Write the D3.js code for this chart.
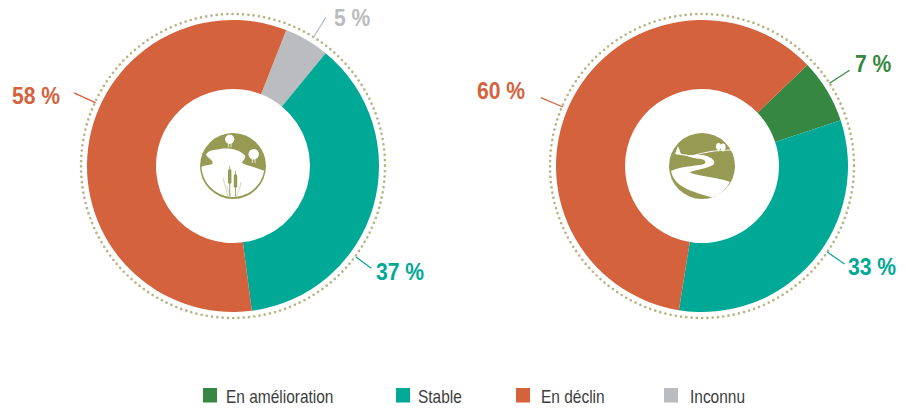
<!DOCTYPE html>
<html>
<head>
<meta charset="utf-8">
<script src="https://cdn.jsdelivr.net/npm/d3@7"></script>
<style>
  html, body { margin: 0; padding: 0; background: #fff; }
  text { font-family: "Liberation Sans", sans-serif; }
</style>
</head>
<body>
<div class="chart"></div>
<script>
const width = 906;
const height = 408;

const categories = ['En amélioration', 'Stable', 'En déclin', 'Inconnu'];
const colors = ['#358742', '#00a896', '#d4623c', '#bbbcc0'];

// Order is the clockwise order of the slices
const wetlandCategories = ['Inconnu', 'Stable', 'En déclin'];
const wetlandValues = [5, 37, 58];
const riverCategories = ['En amélioration', 'Stable', 'En déclin'];
const riverValues = [7.1, 32.6, 60.3];

const color = d3.scaleOrdinal().domain(categories).range(colors);

const svg = d3.select('.chart')
  .append('svg')
  .attr('width', width)
  .attr('height', height)
  .style('display', 'block');

const outerRadius = 146;
const innerRadius = 77;
const ringRadius = 152;
const olive = '#979a52';

const arc = d3.arc().innerRadius(innerRadius).outerRadius(outerRadius);
const deg = Math.PI / 180;

function drawDonut(cx, cy, cats, values, startDeg, labels) {
  const g = svg.append('g').attr('transform', `translate(${cx}, ${cy})`);

  const pie = d3.pie()
    .sort(null)
    .startAngle(startDeg * deg)
    .endAngle(startDeg * deg + 2 * Math.PI);

  g.selectAll('path.slice')
    .data(pie(values))
    .enter()
    .append('path')
    .attr('class', 'slice')
    .attr('d', arc)
    .attr('fill', (_d, i) => color(cats[i]));

  // Dotted ring
  g.append('circle')
    .attr('r', ringRadius)
    .attr('fill', 'none')
    .attr('stroke', '#b8b486')
    .attr('stroke-width', 2.7)
    .attr('stroke-linecap', 'round')
    .attr('stroke-dasharray', '0 5.3');

  // Leader lines and percentage labels
  values.forEach((v, i) => {
    const l = labels[i];
    const a = l.angle * deg;
    const c = color(cats[i]);
    g.append('line')
      .attr('x1', Math.sin(a) * l.r0)
      .attr('y1', -Math.cos(a) * l.r0)
      .attr('x2', Math.sin(a) * l.r1)
      .attr('y2', -Math.cos(a) * l.r1)
      .attr('stroke', c)
      .attr('stroke-width', 1.2);
    svg.append('text')
      .attr('transform', `translate(${l.x}, ${l.y}) scale(0.88, 1)`)
      .attr('fill', c)
      .attr('font-size', 24)
      .attr('font-weight', 700)
      .text(`${Math.round(v)} %`);
  });

  return g;
}

function wetlandIcon(g) {
  g.append('circle').attr('r', 33).attr('fill', olive);
  g.append('path')
    .attr('fill', '#fff')
    .attr('d', 'M-31.5,0.7 C-28,-0.5 -24,-1 -21,-1.7 C-19.5,-4 -21,-5.5 -22.7,-6.7 C-24.5,-8.5 -27.5,-10 -26.7,-11.7 C-25,-15 -21,-16 -19,-16 C-13,-17.5 -8,-18 -2.7,-17.3 C3,-17 9,-14 12.3,-10 C12.5,-7 10,-5.5 9,-3.3 C12,-1.5 15,-0.5 17.3,0 C22,1.5 27,3 31.2,4.8 A31.6,31.6 0 0 1 -31.5,0.7 Z');
  [[-3.3, -26.7, 4.6], [20.7, -11.7, 5.2]].forEach(([x, y, r]) => {
    g.append('circle').attr('cx', x).attr('cy', y).attr('r', r).attr('fill', '#fff');
    g.append('path')
      .attr('d', `M${x - 1.3},${y + 2} V${y + r + 3.5} M${x + 1.3},${y + 2} V${y + r + 3.5}`)
      .attr('stroke', '#fff')
      .attr('stroke-width', 0.8);
  });
  g.append('path')
    .attr('fill', 'none')
    .attr('stroke', '#c4c59c')
    .attr('stroke-width', 0.7)
    .attr('d', 'M-10,12 C-8,20 -6,26 -5,31 M-3.3,8 V31 M2.3,20 V31 M8,16 C7,22 5,27 3,31 M-6,20 C-5,25 -3,28 -2,31');
  g.append('rect').attr('x', -5).attr('y', 3).attr('width', 3.4).attr('height', 15).attr('rx', 1.7).attr('fill', olive);
  g.append('rect').attr('x', 0.8).attr('y', 8).attr('width', 3.4).attr('height', 14).attr('rx', 1.7).attr('fill', olive);
  g.append('path')
    .attr('stroke', olive)
    .attr('stroke-width', 0.7)
    .attr('d', 'M-3.3,0 V3 M-3.3,18 V30 M2.5,5 V8 M2.5,22 V30');
}

function riverIcon(g) {
  g.append('circle').attr('r', 33).attr('fill', olive);
  g.append('path')
    .attr('fill', '#fff')
    .attr('d', 'M-16,-11 C-8,-11 -1,-12 5,-10 C12,-7 14,-4 11,-1 C5,3 -6,3 -12,6.5 C-5,10 15,11 28,16 A31.6,31.6 0 0 1 10,31.6 C2,29 -10,26 -17,22 C-24,18 -29,14 -31,5 C-24,1 -8,0 1,-1.5 C5,-3 4,-6 -1,-7 C-7,-8 -12,-8 -16,-11 Z');
  g.append('path')
    .attr('fill', 'none')
    .attr('stroke', '#fff')
    .attr('stroke-width', 1.1)
    .attr('d', 'M-26,-12 C-20,-12 -14,-10 -10,-10 C2,-14 15,-16 29,-16');
  g.append('path').attr('fill', '#fff').attr('d', 'M-27,-12 L-24,-20 L-21,-12 Z');
  [[16.5, -19.5], [21, -19]].forEach(([x, y]) => {
    g.append('ellipse').attr('cx', x).attr('cy', y).attr('rx', 2.6).attr('ry', 3.4).attr('fill', '#fff');
    g.append('line').attr('x1', x).attr('x2', x).attr('y1', y).attr('y2', y + 5).attr('stroke', '#fff').attr('stroke-width', 0.8);
  });
}

const wetland = drawDonut(233, 166, wetlandCategories, wetlandValues, 21.4, [
  { angle: 32, r0: 151, r1: 175, x: 334, y: 26 },
  { angle: 126.5, r0: 153, r1: 172, x: 376, y: 280 },
  { angle: 294.7, r0: 151, r1: 175, x: 12, y: 104 }
]);
wetlandIcon(wetland);

const river = drawDonut(702, 166, riverCategories, riverValues, 46.2, [
  { angle: 57, r0: 152, r1: 176, x: 855, y: 72 },
  { angle: 124.5, r0: 152, r1: 173, x: 848, y: 275 },
  { angle: 293, r0: 151, r1: 175, x: 477, y: 99 }
]);
riverIcon(river);

// Legend
const legendX = [203, 396, 516, 664];
const legendTextX = [226, 418, 541, 690];
const legend = svg.selectAll('g.legend')
  .data(categories)
  .enter()
  .append('g')
  .attr('class', 'legend');

legend.append('rect')
  .attr('x', (_d, i) => legendX[i])
  .attr('y', 388)
  .attr('width', 14)
  .attr('height', 14.5)
  .attr('fill', (d) => color(d));

legend.append('text')
  .attr('transform', (_d, i) => `translate(${legendTextX[i]}, 403) scale(0.86, 1)`)
  .attr('font-size', 18)
  .attr('fill', '#3d3d3d')
  .text((d) => d);
</script>
</body>
</html>
